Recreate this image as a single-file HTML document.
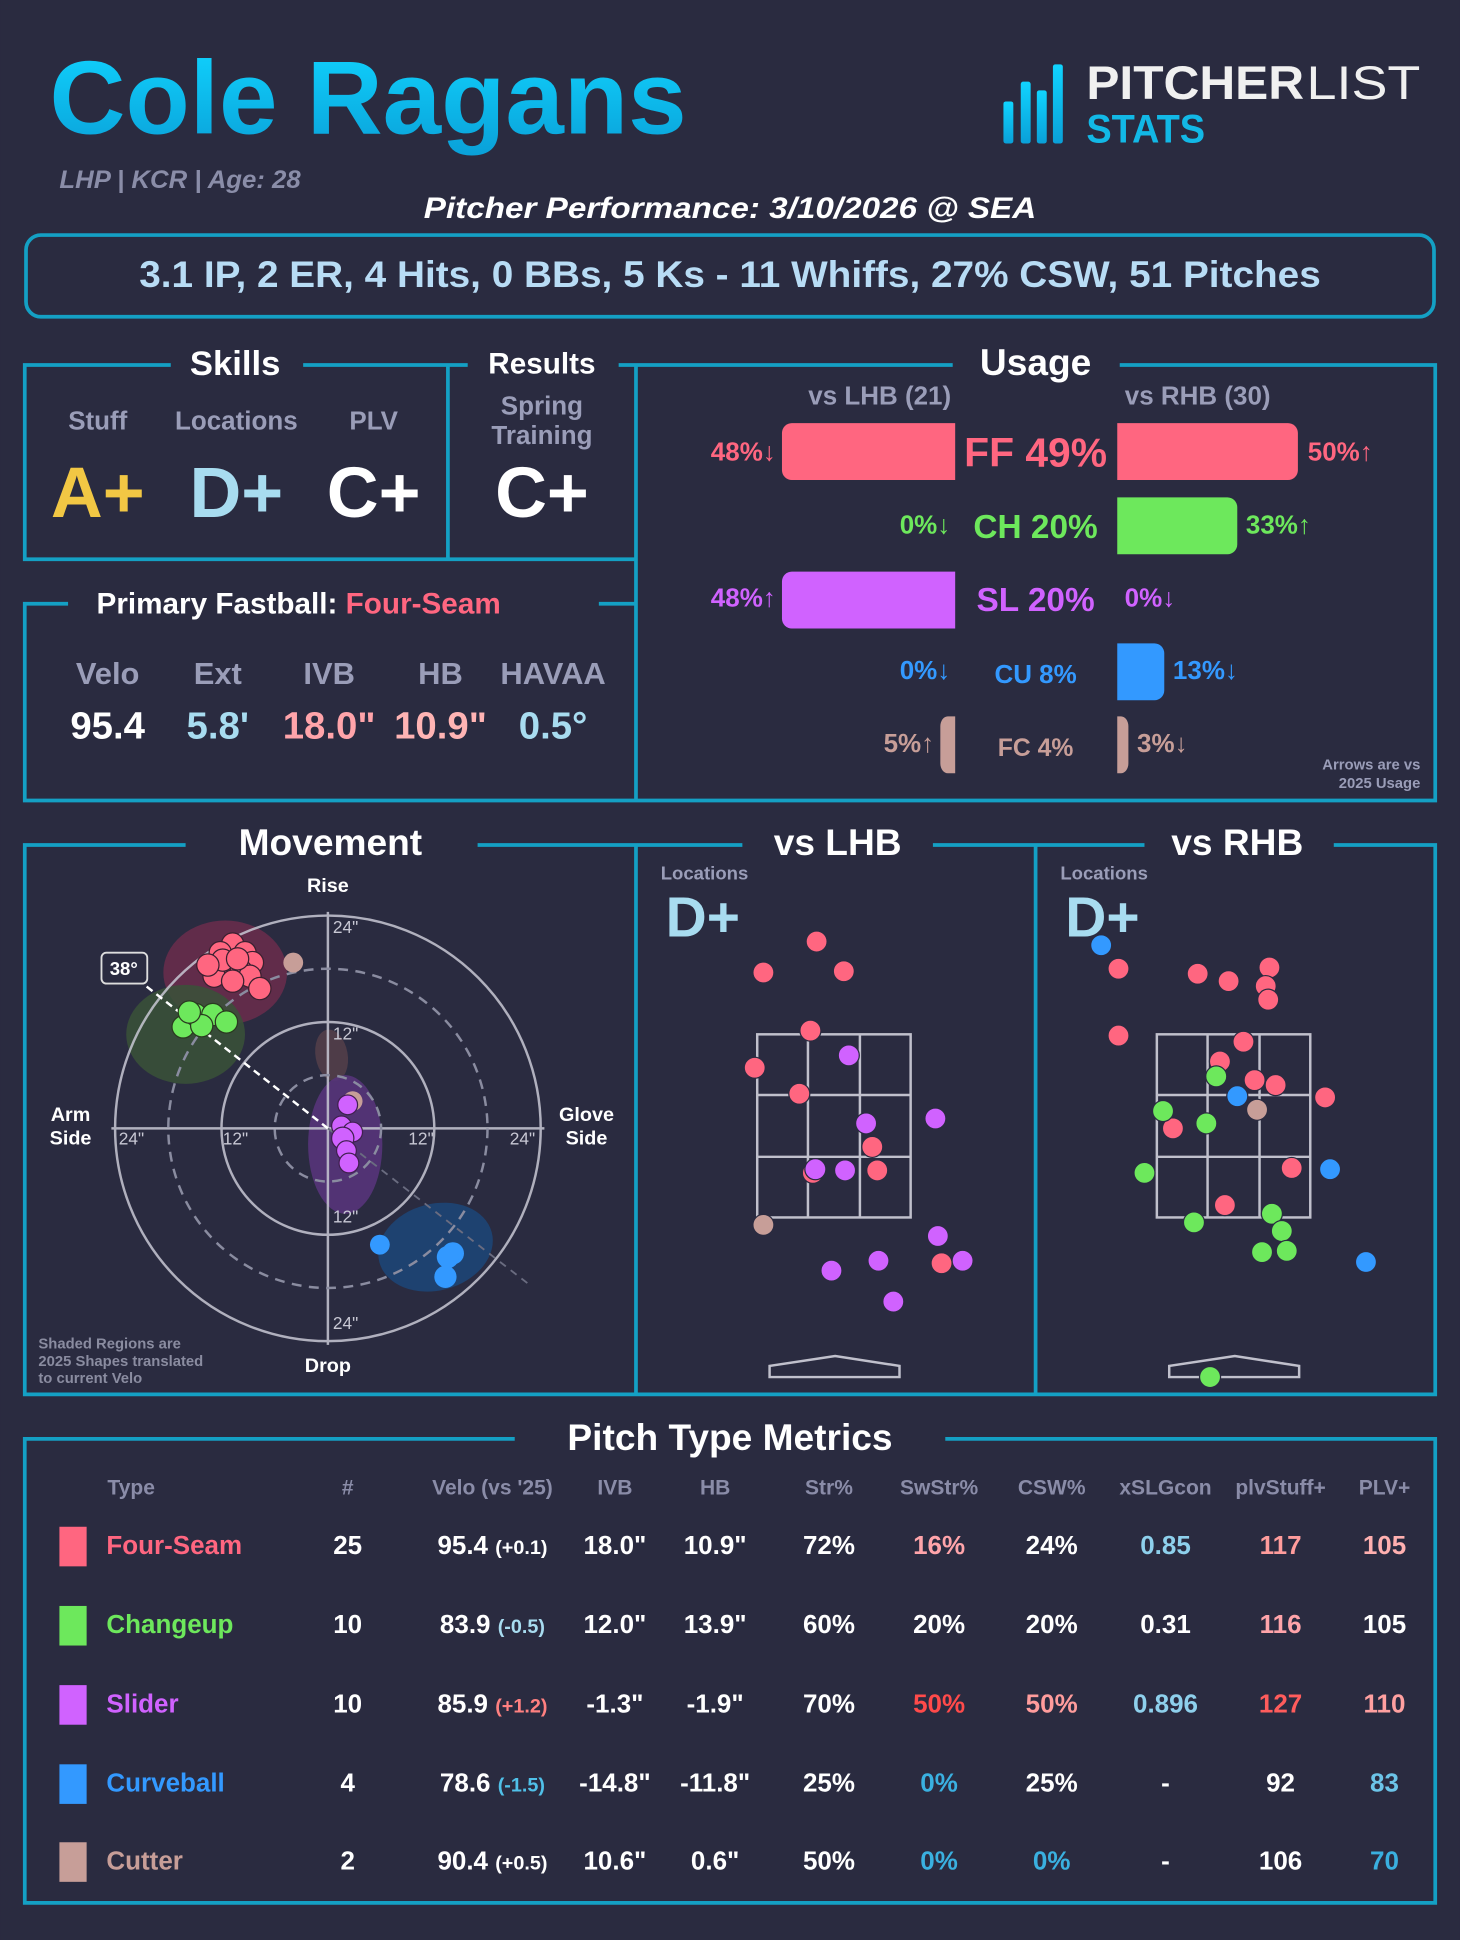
<!DOCTYPE html>
<html><head><meta charset="utf-8"><style>
html,body{margin:0;padding:0;background:#2a2b40;}
svg{display:block;font-family:"Liberation Sans",sans-serif;}
</style></head><body>
<svg width="1460" height="1940" viewBox="0 0 1180 1568" xmlns="http://www.w3.org/2000/svg">
<defs>
<linearGradient id="tg" x1="0" y1="0" x2="0" y2="1"><stop offset="0" stop-color="#10d4ff"/><stop offset="1" stop-color="#0aa0d8"/></linearGradient>
</defs>
<rect width="1180" height="1568" fill="#2a2b40"/>
<!-- header -->
<text x="40" y="108" font-size="84" font-weight="bold" fill="url(#tg)" textLength="515" lengthAdjust="spacingAndGlyphs">Cole Ragans</text>
<g fill="url(#tg)">
<rect x="811" y="82" width="8" height="34" rx="2"/><rect x="825" y="66" width="8" height="50" rx="2"/><rect x="838" y="73" width="8" height="43" rx="2"/><rect x="851" y="52" width="8" height="64" rx="2"/>
</g>
<text x="878" y="80" font-size="38" font-weight="bold" fill="#f0f0f0" textLength="176" lengthAdjust="spacingAndGlyphs">PITCHER</text>
<text x="1056" y="80" font-size="38" fill="#f0f0f0" textLength="92" lengthAdjust="spacingAndGlyphs">LIST</text>
<text x="878" y="115" font-size="32" font-weight="bold" fill="#12b8e6" textLength="96" lengthAdjust="spacingAndGlyphs">STATS</text>
<text x="48" y="152" font-size="20" font-style="italic" font-weight="bold" fill="#8a8da8" textLength="195" lengthAdjust="spacingAndGlyphs">LHP | KCR | Age: 28</text>
<text x="590" y="176" font-size="24" font-style="italic" font-weight="bold" fill="#fff" text-anchor="middle" textLength="495" lengthAdjust="spacingAndGlyphs">Pitcher Performance: 3/10/2026 @ SEA</text>
<rect x="21" y="190" width="1138" height="66" rx="12" fill="none" stroke="#14a0c4" stroke-width="3"/>
<text x="590" y="232" font-size="30" font-weight="bold" fill="#b8dcf5" text-anchor="middle" textLength="955" lengthAdjust="spacingAndGlyphs">3.1 IP, 2 ER, 4 Hits, 0 BBs, 5 Ks - 11 Whiffs, 27% CSW, 51 Pitches</text>

<!-- panel borders -->
<g fill="none" stroke="#14a0c4" stroke-width="3">
<path d="M138,295 H20 V452 H514 M245,295 H362 V452 M362,295 H378 M500,295 H514 V647 M514,295 H770 M905,295 H1160 V647 H20 V488 H55 M484,488 H514"/>
<path d="M150,683 H20 V1127 H1160 V683 H1078 M386,683 H600 M754,683 H925 M837,683 V1127 M514,683 V1127"/>
<path d="M416,1163 H20 V1538 H1160 V1163 H764"/>
</g>
<!-- section titles -->
<g font-weight="bold" fill="#fff" text-anchor="middle">
<text x="190" y="303" font-size="28">Skills</text>
<text x="438" y="302" font-size="24">Results</text>
<text x="837" y="303" font-size="30">Usage</text>
<text x="267" y="691" font-size="30">Movement</text>
<text x="677" y="691" font-size="30">vs LHB</text>
<text x="1000" y="691" font-size="30">vs RHB</text>
<text x="590" y="1172" font-size="30">Pitch Type Metrics</text>
</g>
<text x="78" y="496" font-size="24" font-weight="bold" fill="#fff">Primary Fastball: <tspan fill="#ff6680">Four-Seam</tspan></text>

<!-- skills -->
<g font-size="21" font-weight="bold" fill="#9a9db8" text-anchor="middle">
<text x="79" y="347">Stuff</text><text x="191" y="347">Locations</text><text x="302" y="347">PLV</text>
<text x="438" y="335">Spring</text><text x="438" y="359">Training</text>
</g>
<g font-size="58" font-weight="bold" text-anchor="middle">
<text x="79" y="418" fill="#f2c744">A+</text><text x="191" y="418" fill="#a8dcf0">D+</text><text x="302" y="418" fill="#fff">C+</text><text x="438" y="418" fill="#fff">C+</text>
</g>
<!-- fastball -->
<g font-size="25" font-weight="bold" fill="#9a9db8" text-anchor="middle">
<text x="87" y="553">Velo</text><text x="176" y="553">Ext</text><text x="266" y="553">IVB</text><text x="356" y="553">HB</text><text x="447" y="553">HAVAA</text>
</g>
<g font-size="31" font-weight="bold" text-anchor="middle">
<text x="87" y="597" fill="#fff">95.4</text><text x="176" y="597" fill="#a8dcf0">5.8'</text><text x="266" y="597" fill="#ffa4aa">18.0"</text><text x="356" y="597" fill="#ffb4b4">10.9"</text><text x="447" y="597" fill="#a8dcf0">0.5°</text>
</g>

<!-- usage -->
<g font-size="21" font-weight="bold" fill="#9a9db8" text-anchor="middle"><text x="711" y="327">vs LHB (21)</text><text x="968" y="327">vs RHB (30)</text></g>
<g>
<path d="M772,342 H640 a8,8 0 0 0 -8,8 V380 a8,8 0 0 0 8,8 H772Z" fill="#ff6680"/>
<path d="M903,342 H1041 a8,8 0 0 1 8,8 V380 a8,8 0 0 1 -8,8 H903Z" fill="#ff6680"/>
<path d="M903,402 H992 a8,8 0 0 1 8,8 V440 a8,8 0 0 1 -8,8 H903Z" fill="#6de85c"/>
<path d="M772,462 H640 a8,8 0 0 0 -8,8 V500 a8,8 0 0 0 8,8 H772Z" fill="#d062ff"/>
<path d="M903,520 H933 a8,8 0 0 1 8,8 V558 a8,8 0 0 1 -8,8 H903Z" fill="#3399ff"/>
<path d="M772,579 H766 a6,8 0 0 0 -6,8 V617 a6,8 0 0 0 6,8 H772Z" fill="#c79e98"/>
<path d="M903,579 H906 a6,8 0 0 1 6,8 V617 a6,8 0 0 1 -6,8 H903Z" fill="#c79e98"/>
</g>
<g font-weight="bold">
<text x="837" y="377" font-size="33" fill="#ff6680" text-anchor="middle">FF 49%</text>
<text x="837" y="435" font-size="27" fill="#6de85c" text-anchor="middle">CH 20%</text>
<text x="837" y="494" font-size="27" fill="#d062ff" text-anchor="middle">SL 20%</text>
<text x="837" y="552" font-size="21" fill="#3399ff" text-anchor="middle">CU 8%</text>
<text x="837" y="611" font-size="20" fill="#c79e98" text-anchor="middle">FC 4%</text>
<g font-size="21" text-anchor="end">
<text x="627" y="372" fill="#ff6680">48%↓</text><text x="768" y="431" fill="#6de85c">0%↓</text><text x="627" y="490" fill="#d062ff">48%↑</text><text x="768" y="549" fill="#3399ff">0%↓</text><text x="755" y="608" fill="#c79e98">5%↑</text>
</g>
<g font-size="21">
<text x="1057" y="372" fill="#ff6680">50%↑</text><text x="1007" y="431" fill="#6de85c">33%↑</text><text x="909" y="490" fill="#d062ff">0%↓</text><text x="948" y="549" fill="#3399ff">13%↓</text><text x="919" y="608" fill="#c79e98">3%↓</text>
</g>
<g font-size="12" fill="#9a9db8" text-anchor="end"><text x="1148" y="622">Arrows are vs</text><text x="1148" y="637">2025 Usage</text></g>
</g>

<!-- movement -->
<g>
<ellipse cx="182" cy="786" rx="50" ry="42" fill="#6b2d4c" opacity="0.85"/>
<ellipse cx="150" cy="836" rx="48" ry="40" fill="#3a5238" opacity="0.85"/>
<ellipse cx="268" cy="853" rx="13" ry="21" fill="#4e3c48" transform="rotate(-10 268 853)"/>
<ellipse cx="279" cy="925" rx="30" ry="56" fill="#57347a" opacity="0.9"/>
<ellipse cx="352" cy="1008" rx="47" ry="35" fill="#1e4270" transform="rotate(-15 352 1008)"/>
<g fill="none" stroke="#c8c8d4" stroke-width="2" opacity="0.85">
<circle cx="265" cy="912" r="86"/><circle cx="265" cy="912" r="172"/>
<line x1="265" y1="737" x2="265" y2="1087"/><line x1="90" y1="912" x2="440" y2="912"/>
</g>
<g fill="none" stroke="#8a8ca0" stroke-width="2" stroke-dasharray="8,6"><circle cx="265" cy="912" r="43"/><circle cx="265" cy="912" r="129"/></g>
<line x1="265" y1="912" x2="430" y2="1040" stroke="#6a6c80" stroke-width="1.5" stroke-dasharray="6,5"/>
<line x1="265" y1="912" x2="118" y2="797" stroke="#fff" stroke-width="2" stroke-dasharray="6,4"/>
<rect x="82" y="770" width="37" height="25" rx="4" fill="#2a2b40" stroke="#ddd" stroke-width="1.5"/>
<text x="100" y="788" font-size="15" font-weight="bold" fill="#fff" text-anchor="middle">38°</text>
<g stroke="#3a2030" stroke-width="1" fill="#ff6680">
<circle cx="188" cy="763" r="9"/><circle cx="178" cy="770" r="9"/><circle cx="198" cy="770" r="9"/><circle cx="204" cy="778" r="9"/><circle cx="184" cy="780" r="9"/><circle cx="195" cy="785" r="9"/><circle cx="173" cy="789" r="9"/><circle cx="202" cy="789" r="9"/><circle cx="188" cy="793" r="9"/><circle cx="210" cy="799" r="9"/><circle cx="180" cy="776" r="9"/><circle cx="192" cy="775" r="9"/><circle cx="168" cy="780" r="9"/>
</g>
<circle cx="237" cy="778" r="8" fill="#c79e98"/>
<g stroke="#2a3a20" stroke-width="1" fill="#6de85c">
<circle cx="148" cy="830" r="9"/><circle cx="158" cy="820" r="9"/><circle cx="172" cy="820" r="9"/><circle cx="183" cy="826" r="9"/><circle cx="163" cy="829" r="9"/><circle cx="153" cy="818" r="9"/>
</g>
<circle cx="285" cy="890" r="8" fill="#c79e98"/>
<g stroke="#402050" stroke-width="1" fill="#d062ff">
<circle cx="281" cy="893" r="8"/><circle cx="276" cy="910" r="8"/><circle cx="285" cy="915" r="8"/><circle cx="277" cy="920" r="9"/><circle cx="280" cy="930" r="8"/><circle cx="282" cy="940" r="8"/>
</g>
<g fill="#3399ff"><circle cx="307" cy="1006" r="8"/><circle cx="366" cy="1013" r="9"/><circle cx="362" cy="1016" r="9"/><circle cx="360" cy="1032" r="9"/></g>
<g font-size="16" font-weight="bold" fill="#fff" text-anchor="middle">
<text x="265" y="721">Rise</text><text x="265" y="1109">Drop</text>
<text x="57" y="906">Arm</text><text x="57" y="925">Side</text><text x="474" y="906">Glove</text><text x="474" y="925">Side</text>
</g>
<g font-size="14" fill="#c8c8d4">
<text x="269" y="754">24"</text><text x="269" y="840">12"</text><text x="269" y="988">12"</text><text x="269" y="1074">24"</text>
<text x="96" y="925">24"</text><text x="180" y="925">12"</text><text x="330" y="925">12"</text><text x="412" y="925">24"</text>
</g>
<g font-size="12" font-weight="bold" fill="#8a8ca0"><text x="31" y="1090">Shaded Regions are</text><text x="31" y="1104">2025 Shapes translated</text><text x="31" y="1118">to current Velo</text></g>
</g>

<!-- zone plots -->
<g font-weight="bold">
<text x="534" y="711" font-size="15" fill="#9a9db8">Locations</text><text x="538" y="757" font-size="46" fill="#a8dcf0">D+</text>
<text x="857" y="711" font-size="15" fill="#9a9db8">Locations</text><text x="861" y="757" font-size="46" fill="#a8dcf0">D+</text>
</g>
<g fill="none" stroke="#c0c0cc" stroke-width="2">
<rect x="612" y="836" width="124" height="148"/><path d="M653,836V984M695,836V984M612,885H736M612,935H736"/>
<rect x="935" y="836" width="124" height="148"/><path d="M976,836V984M1018,836V984M935,885H1059M935,935H1059"/>
<path d="M622,1113H727V1104L675,1096L622,1104Z"/><path d="M945,1113H1050V1104L998,1096L945,1104Z"/>
</g>
<g stroke="#2a2b40" stroke-width="1">
<g fill="#ff6680"><circle cx="660" cy="761" r="8.5"/><circle cx="617" cy="786" r="8.5"/><circle cx="682" cy="785" r="8.5"/><circle cx="655" cy="833" r="8.5"/><circle cx="610" cy="863" r="8.5"/><circle cx="646" cy="884" r="8.5"/><circle cx="705" cy="927" r="8.5"/><circle cx="709" cy="946" r="8.5"/><circle cx="761" cy="1021" r="8.5"/><circle cx="657" cy="948" r="8.5"/></g>
<g fill="#d062ff"><circle cx="686" cy="853" r="8.5"/><circle cx="756" cy="904" r="8.5"/><circle cx="700" cy="908" r="8.5"/><circle cx="659" cy="945" r="8.5"/><circle cx="683" cy="946" r="8.5"/><circle cx="758" cy="999" r="8.5"/><circle cx="710" cy="1019" r="8.5"/><circle cx="672" cy="1027" r="8.5"/><circle cx="778" cy="1019" r="8.5"/><circle cx="722" cy="1052" r="8.5"/></g>
<circle cx="617" cy="990" r="8.5" fill="#c79e98"/>
<g fill="#ff6680"><circle cx="904" cy="783" r="8.5"/><circle cx="968" cy="787" r="8.5"/><circle cx="993" cy="793" r="8.5"/><circle cx="1026" cy="782" r="8.5"/><circle cx="1023" cy="797" r="8.5"/><circle cx="1025" cy="808" r="8.5"/><circle cx="904" cy="837" r="8.5"/><circle cx="1005" cy="842" r="8.5"/><circle cx="986" cy="858" r="8.5"/><circle cx="1014" cy="873" r="8.5"/><circle cx="1031" cy="877" r="8.5"/><circle cx="1071" cy="887" r="8.5"/><circle cx="948" cy="912" r="8.5"/><circle cx="1044" cy="944" r="8.5"/><circle cx="990" cy="974" r="8.5"/></g>
<g fill="#6de85c"><circle cx="983" cy="870" r="8.5"/><circle cx="940" cy="898" r="8.5"/><circle cx="975" cy="908" r="8.5"/><circle cx="925" cy="948" r="8.5"/><circle cx="1028" cy="981" r="8.5"/><circle cx="1036" cy="995" r="8.5"/><circle cx="965" cy="988" r="8.5"/><circle cx="1020" cy="1012" r="8.5"/><circle cx="1040" cy="1011" r="8.5"/><circle cx="978" cy="1113" r="8.5"/></g>
<g fill="#3399ff"><circle cx="890" cy="764" r="8.5"/><circle cx="1000" cy="886" r="8.5"/><circle cx="1075" cy="945" r="8.5"/><circle cx="1104" cy="1020" r="8.5"/></g>
<circle cx="1016" cy="897" r="8.5" fill="#c79e98"/>
</g>

<!-- table -->
<g font-size="17" font-weight="bold" fill="#8a8ca8" text-anchor="middle">
<text x="106" y="1208">Type</text><text x="281" y="1208">#</text><text x="398" y="1208">Velo (vs '25)</text><text x="497" y="1208">IVB</text><text x="578" y="1208">HB</text><text x="670" y="1208">Str%</text><text x="759" y="1208">SwStr%</text><text x="850" y="1208">CSW%</text><text x="942" y="1208">xSLGcon</text><text x="1035" y="1208">plvStuff+</text><text x="1119" y="1208">PLV+</text>
</g>
<g font-size="21" font-weight="bold" fill="#fff" text-anchor="middle">
<rect x="48" y="1234" width="22" height="32" fill="#ff6680"/>
<text x="86" y="1256" text-anchor="start" fill="#ff6680">Four-Seam</text><text x="281" y="1256">25</text><text x="398" y="1256">95.4 <tspan font-size="16">(+0.1)</tspan></text><text x="497" y="1256">18.0"</text><text x="578" y="1256">10.9"</text><text x="670" y="1256">72%</text><text x="759" y="1256" fill="#ffa4aa">16%</text><text x="850" y="1256">24%</text><text x="942" y="1256" fill="#8ed0ec">0.85</text><text x="1035" y="1256" fill="#ff9c9c">117</text><text x="1119" y="1256" fill="#ffb0b0">105</text>
<rect x="48" y="1298" width="22" height="32" fill="#6de85c"/>
<text x="86" y="1320" text-anchor="start" fill="#6de85c">Changeup</text><text x="281" y="1320">10</text><text x="398" y="1320">83.9 <tspan font-size="16" fill="#a8dcf0">(-0.5)</tspan></text><text x="497" y="1320">12.0"</text><text x="578" y="1320">13.9"</text><text x="670" y="1320">60%</text><text x="759" y="1320">20%</text><text x="850" y="1320">20%</text><text x="942" y="1320">0.31</text><text x="1035" y="1320" fill="#ffa4aa">116</text><text x="1119" y="1320">105</text>
<rect x="48" y="1362" width="22" height="32" fill="#d062ff"/>
<text x="86" y="1384" text-anchor="start" fill="#d062ff">Slider</text><text x="281" y="1384">10</text><text x="398" y="1384">85.9 <tspan font-size="16" fill="#ff8080">(+1.2)</tspan></text><text x="497" y="1384">-1.3"</text><text x="578" y="1384">-1.9"</text><text x="670" y="1384">70%</text><text x="759" y="1384" fill="#ff4a4a">50%</text><text x="850" y="1384" fill="#ff9c9c">50%</text><text x="942" y="1384" fill="#8ed0ec">0.896</text><text x="1035" y="1384" fill="#ff5c5c">127</text><text x="1119" y="1384" fill="#ffa0a0">110</text>
<rect x="48" y="1426" width="22" height="32" fill="#3399ff"/>
<text x="86" y="1448" text-anchor="start" fill="#3399ff">Curveball</text><text x="281" y="1448">4</text><text x="398" y="1448">78.6 <tspan font-size="16" fill="#50c0e8">(-1.5)</tspan></text><text x="497" y="1448">-14.8"</text><text x="578" y="1448">-11.8"</text><text x="670" y="1448">25%</text><text x="759" y="1448" fill="#3ab0e0">0%</text><text x="850" y="1448">25%</text><text x="942" y="1448">-</text><text x="1035" y="1448">92</text><text x="1119" y="1448" fill="#6cc4e8">83</text>
<rect x="48" y="1489" width="22" height="32" fill="#c79e98"/>
<text x="86" y="1511" text-anchor="start" fill="#c79e98">Cutter</text><text x="281" y="1511">2</text><text x="398" y="1511">90.4 <tspan font-size="16">(+0.5)</tspan></text><text x="497" y="1511">10.6"</text><text x="578" y="1511">0.6"</text><text x="670" y="1511">50%</text><text x="759" y="1511" fill="#3ab0e0">0%</text><text x="850" y="1511" fill="#3ab0e0">0%</text><text x="942" y="1511">-</text><text x="1035" y="1511">106</text><text x="1119" y="1511" fill="#3ab0e0">70</text>
</g>
</svg>
</body></html>
